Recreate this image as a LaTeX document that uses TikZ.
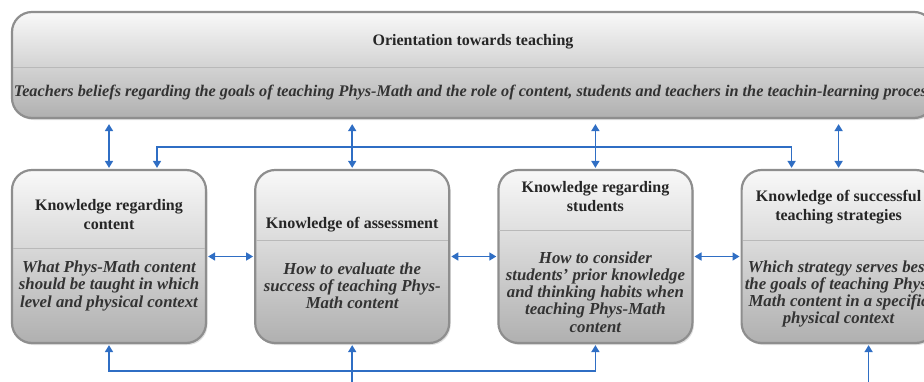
\documentclass[tikz,border=0pt]{standalone}
\usepackage{fontspec}
\setmainfont{Liberation Serif}
\usetikzlibrary{positioning,calc,arrows.meta,shadows}
\definecolor{linkblue}{HTML}{2F6EC4}
\definecolor{boxedge}{HTML}{8E8E8E}

\begin{document}
\begin{tikzpicture}[x=1pt,y=-1pt,
  box/.style={draw=boxedge,line width=2.2pt,rounded corners=20pt,top color=gray!5,bottom color=gray!62,
    drop shadow={opacity=0.25,shadow xshift=1.5pt,shadow yshift=-2pt},
    minimum width=194pt,minimum height=173pt,inner sep=0pt},
  head/.style={font=\fontsize{16}{19}\selectfont\bfseries,align=center,text=black!85},
  body/.style={font=\fontsize{16.8}{17.2}\selectfont\bfseries\itshape,align=center,text=black!80},
  rule/.style={draw=gray!55,line width=0.8pt},
  link/.style={draw=linkblue,line width=1.6pt},
  >={Triangle[length=7pt,width=8pt]},
  node distance=47pt]
  \useasboundingbox (0,0) rectangle (924,381);
  \clip (0,0) rectangle (924,381);

  % orientation on top
  \node[box,minimum width=922pt,minimum height=106pt] (orient) at (473,65) {};
  \draw[rule] ($(orient.west)+(2,2)$) -- ($(orient.east)+(-2,2)$);
  \node[head] (orienthead) at (473,42) {Orientation towards teaching};
  \node[body,font=\fontsize{16.25}{17}\selectfont\bfseries\itshape] (orientbody) at (473.5,93) {Teachers beliefs regarding the goals of teaching Phys-Math and the role of content, students and teachers in the teachin-learning process};

  % the four kinds of knowledge
  \node[box] (content) at (109,256.5) {};
  \node[box,right=of content] (assess) {};
  \node[box,right=of assess] (students) {};
  \node[box,right=of students] (strategies) {};

  \draw[rule] ($(content.north west)+(2,79)$) -- ($(content.north east)+(-2,79)$);
  \draw[rule] ($(assess.north west)+(2,71)$) -- ($(assess.north east)+(-2,71)$);
  \draw[rule] ($(students.north west)+(2,61)$) -- ($(students.north east)+(-2,61)$);
  \draw[rule] ($(strategies.north west)+(2,71)$) -- ($(strategies.north east)+(-2,71)$);

  \node[head] (contenthead) at ($(content.north)+(0,46)$) {Knowledge regarding\\content};
  \node[body] (contentbody) at ($(content.north)+(0,117)$) {What Phys-Math content\\should be taught in which\\level and physical context};
  \node[head] (assesshead) at ($(assess.north)+(0,56)$) {Knowledge of assessment};
  \node[body] (assessbody) at ($(assess.north)+(0,117)$) {How to evaluate the\\success of teaching Phys-\\Math content};
  \node[head] (studentshead) at ($(students.north)+(0,28)$) {Knowledge regarding\\students};
  \node[body] (studentsbody) at ($(students.north)+(0,123)$) {How to consider\\students’ prior knowledge\\and thinking habits when\\teaching Phys-Math\\content};
  \node[head] (strategieshead) at ($(strategies.north)+(0,38)$) {Knowledge of successful\\teaching strategies};
  \node[body] (strategiesbody) at ($(strategies.north)+(0,125)$) {Which strategy serves best\\the goals of teaching Phys-\\Math content in a specific\\physical context};

  % links to the orientation
  \draw[link,<->,shorten <=5pt,shorten >=1pt] (orient.south -| content.north) -- (content.north);
  \draw[link,<->,shorten <=5pt,shorten >=1pt] (orient.south -| assess.north) -- (assess.north);
  \draw[link,<->,shorten <=5pt,shorten >=1pt] (orient.south -| students.north) -- (students.north);
  \draw[link,<->,shorten <=5pt,shorten >=1pt] (orient.south -| strategies.north) -- (strategies.north);
  \draw[link,<->,shorten <=1pt,shorten >=1pt] ($(content.north)+(48,0)$) -- ++(0,-22) -| ($(strategies.north)+(-47,0)$);

  % links side by side
  \draw[link,<->,shorten <=1pt,shorten >=1pt] (content) -- (assess);
  \draw[link,<->,shorten <=1pt,shorten >=1pt] (assess) -- (students);
  \draw[link,<->,shorten <=1pt,shorten >=1pt] (students) -- (strategies);

  % links from below
  \coordinate (assessfeed) at ($(assess.south)+(0,45)$);
  \coordinate (strategiesfeed) at ($(strategies.south)+(30,45)$);
  \draw[link,<->,shorten <=1pt,shorten >=1pt] (content.south) -- ++(0,27) -| (students.south);
  \draw[link,->,shorten >=1pt] (assessfeed) -- (assessfeed |- assess.south);
  \draw[link,->,shorten >=1pt] (strategiesfeed) -- (strategiesfeed |- strategies.south);
\end{tikzpicture}
\end{document}
